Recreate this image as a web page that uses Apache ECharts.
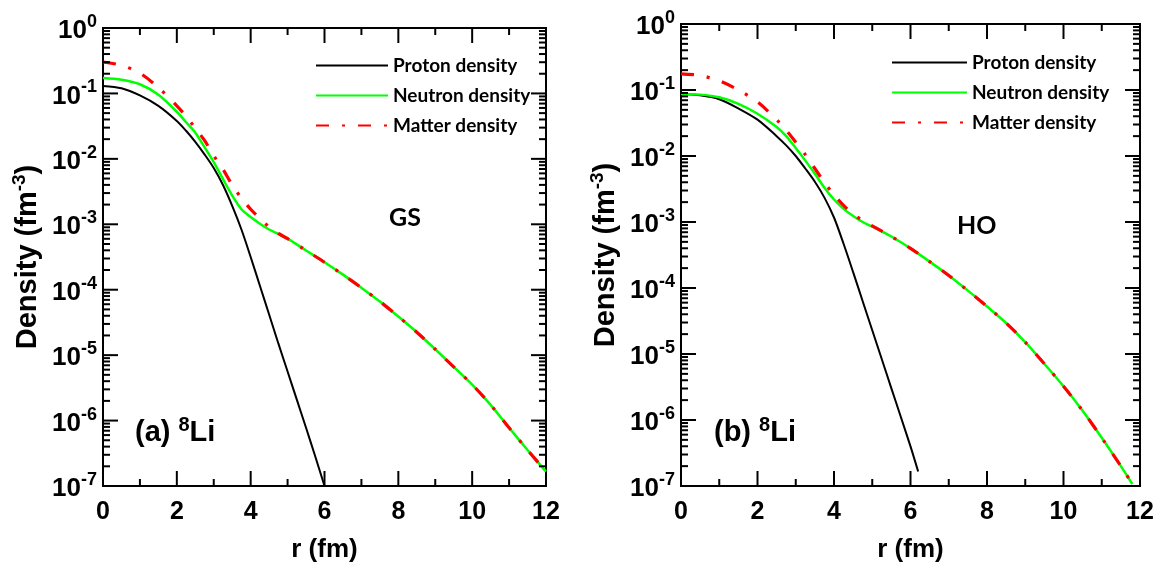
<!DOCTYPE html>
<html><head><meta charset="utf-8">
<script src="https://cdn.jsdelivr.net/npm/echarts@6/dist/echarts.min.js"></script>
<style>html,body{margin:0;padding:0;background:#fff}#c{width:1164px;height:568px}</style>
</head><body><div id="c"></div>
<script>
// ---------- data ----------
const xTicks = [0, 2, 4, 6, 8, 10, 12];
const yExponents = [-7, -6, -5, -4, -3, -2, -1, 0];
const seriesNames = ['Proton density', 'Neutron density', 'Matter density'];

// panel (a) GS
const rProtonA = [0,0.5,1,1.5,2,2.25,2.5,2.75,3,3.25,3.5,3.75,4,4.25,4.5,4.75,5,5.25,5.5,5.75,6];
const protonA = [0.1303,0.120,0.0933,0.0646,0.0380,0.0269,0.0182,0.0117,0.00724,0.00398,0.00191,8.32e-4,3.16e-4,1.15e-4,4.17e-5,1.51e-5,5.62e-6,2.09e-6,7.76e-7,2.82e-7,1.0e-7];
const rA = [0,0.5,1,1.5,2,2.25,2.5,2.75,3,3.25,3.5,3.75,4,4.25,4.5,4.75,5,5.5,6,6.5,7,7.5,8,8.5,9,9.5,10,10.5,11,11.5,12];
const neutronA = [0.172,0.162,0.138,0.0955,0.0525,0.0363,0.0251,0.0151,0.00891,0.0049,0.00275,0.0017,0.00129,0.00102,8.32e-4,7.08e-4,6.03e-4,3.98e-4,2.63e-4,1.70e-4,1.07e-4,6.61e-5,3.89e-5,2.24e-5,1.23e-5,6.61e-6,3.55e-6,1.74e-6,7.76e-7,3.55e-7,1.66e-7];
const matterA = [0.302,0.269,0.204,0.123,0.0646,0.0447,0.0295,0.0191,0.0112,0.00692,0.00398,0.00251,0.0017,0.00123,9.12e-4,7.24e-4,6.03e-4,3.98e-4,2.63e-4,1.70e-4,1.07e-4,6.61e-5,3.89e-5,2.24e-5,1.23e-5,6.61e-6,3.55e-6,1.74e-6,7.76e-7,3.55e-7,1.66e-7];

// panel (b) HO
const rProtonB = [0,0.5,1,1.5,2,2.5,2.75,3,3.25,3.5,3.75,4,4.25,4.5,4.75,5,5.25,5.5,5.75,6,6.2];
const protonB = [0.0871,0.0832,0.0724,0.0525,0.0355,0.0200,0.0145,0.0100,0.00646,0.00407,0.00234,0.00117,4.68e-4,1.74e-4,6.31e-5,2.29e-5,8.32e-6,3.02e-6,1.10e-6,3.98e-7,1.66e-7];
const rB = [0,0.5,1,1.5,2,2.5,2.75,3,3.25,3.5,3.75,4,4.25,4.5,4.75,5,5.5,6,6.5,7,7.5,8,8.5,9,9.5,10,10.5,11,11.5,11.8];
const neutronB = [0.0871,0.0851,0.0776,0.0617,0.0437,0.0275,0.0200,0.0132,0.00851,0.00537,0.00331,0.00219,0.00158,0.00123,0.0010,8.51e-4,6.03e-4,3.98e-4,2.51e-4,1.55e-4,9.12e-5,5.25e-5,2.95e-5,1.51e-5,7.08e-6,3.24e-6,1.38e-6,5.37e-7,2.0e-7,1.07e-7];
const matterB = [0.176,0.166,0.138,0.100,0.0661,0.0355,0.0245,0.0162,0.0105,0.00646,0.00398,0.00257,0.00178,0.00132,0.00105,8.71e-4,6.03e-4,3.98e-4,2.51e-4,1.55e-4,9.12e-5,5.25e-5,2.95e-5,1.51e-5,7.08e-6,3.24e-6,1.38e-6,5.37e-7,2.0e-7,1.07e-7];

// ---------- helpers ----------
const pairs = (xs, ys) => ys.map((v, i) => [xs[i], v]);
const AR = 'Liberation Sans, Arial, sans-serif';
const CAL = 'Lato, Carlito, sans-serif';

const supRich = (big, small, raise) => ({
  b: {fontFamily: AR, fontWeight: 'bold', fontSize: big, lineHeight: big, color: '#000', fill: '#000', verticalAlign: 'bottom'},
  s: {fontFamily: AR, fontWeight: 'bold', fontSize: small, lineHeight: small, color: '#000', fill: '#000', verticalAlign: 'bottom', padding: [0, 0, raise, 0]}
});

// frame tick positions (axis structure): [x, y, kind]
const tickData = [];
yExponents.forEach(e => {
  tickData.push([0, Math.pow(10, e), 'yMajor']);
  if (e < 0) for (let k = 2; k <= 9; k++) tickData.push([0, k * Math.pow(10, e), 'yMinor']);
});
for (let x = 1; x < 12; x++) tickData.push([x, 1, x % 2 === 0 ? 'xMajor' : 'xMinor']);

const grids = [
  {left: 103, top: 28, width: 443, height: 459, show: true, borderColor: '#000', borderWidth: 2, backgroundColor: 'rgba(0,0,0,0)'},
  {left: 681, top: 24, width: 459, height: 464, show: true, borderColor: '#000', borderWidth: 2, backgroundColor: 'rgba(0,0,0,0)'}
];

const xAxes = [], yAxes = [];
grids.forEach((g, gi) => {
  xAxes.push({
    type: 'value', gridIndex: gi, position: 'bottom', min: xTicks[0], max: xTicks[xTicks.length - 1], interval: 2,
    axisLine: {show: true, onZero: false, lineStyle: {color: '#000', width: 2}},
    axisTick: {show: false}, splitLine: {show: false},
    axisLabel: {fontFamily: AR, fontWeight: 'bold', fontSize: 25, color: '#000', margin: 14},
    name: 'r (fm)', nameLocation: 'middle', nameGap: 51,
    nameTextStyle: {fontFamily: AR, fontWeight: 'bold', fontSize: 26, color: '#000'}
  });
  yAxes.push({
    type: 'log', logBase: 10, gridIndex: gi, position: 'left', min: Math.pow(10, yExponents[0]), max: Math.pow(10, yExponents[yExponents.length - 1]), splitNumber: 7,
    axisLine: {show: true, onZero: false, lineStyle: {color: '#000', width: 2}},
    axisTick: {show: false}, splitLine: {show: false}, minorTick: {show: false},
    axisLabel: {show: false},
    name: '{b|Density (fm}{s|-3}{b|)}', nameLocation: 'middle', nameRotate: 90, nameGap: 61,
    nameTextStyle: {rich: supRich(29, 19, 13)}
  });
});

const lineSeries = (gi, name, data, color, width, dash, z) => ({
  type: 'line', name, xAxisIndex: gi, yAxisIndex: gi, data, symbol: 'none', showSymbol: false,
  smooth: 0.3, z, clip: true, animation: false,
  lineStyle: {color, width, type: dash || 'solid'}, itemStyle: {color}
});

// frame ticks and decade labels, placed through the axes' own scales
const tickSeries = gi => ({
  type: 'custom', coordinateSystem: 'cartesian2d', xAxisIndex: gi, yAxisIndex: gi, silent: true, clip: false, z: 10, animation: false,
  data: tickData.map(d => [d[0], d[1]]), encode: {x: 0, y: 1},
  renderItem: (params, api) => {
    const kind = tickData[params.dataIndex][2];
    const ln = (x1, y1, x2, y2) => ({type: 'line', shape: {x1, y1, x2, y2}, style: {stroke: '#000', lineWidth: 2}});
    if (kind[0] === 'y') {
      const v = api.value(1);
      const L = kind === 'yMajor' ? 15 : 7;
      const pl = api.coord([0, v]), pr = api.coord([12, v]);
      const children = [ln(pl[0], pl[1], pl[0] + L, pl[1]), ln(pr[0] - L, pr[1], pr[0], pr[1])];
      if (kind === 'yMajor') {
        children.push({type: 'text', x: pl[0] - 6, y: pl[1] + 3, style: {
          text: '{b|10}{s|' + Math.round(Math.log10(v)) + '}', rich: supRich(26, 18, 13),
          align: 'right', verticalAlign: 'middle'}});
      }
      return {type: 'group', children};
    }
    const x = api.value(0);
    const L = kind === 'xMajor' ? 15 : 7;
    const pb = api.coord([x, 1e-7]), pt = api.coord([x, 1]);
    return {type: 'group', children: [ln(pb[0], pb[1], pb[0], pb[1] - L), ln(pt[0], pt[1], pt[0], pt[1] + L)]};
  }
});

const dashDot = [13, 13, 3, 13];
const series = [
  tickSeries(0), tickSeries(1),
  lineSeries(0, seriesNames[0], pairs(rProtonA, protonA), '#000000', 2, null, 3),
  lineSeries(0, seriesNames[1], pairs(rA, neutronA), '#00ff00', 2.5, null, 4),
  lineSeries(0, seriesNames[2], pairs(rA, matterA), '#ff0000', 3.2, dashDot, 5),
  lineSeries(1, seriesNames[0], pairs(rProtonB, protonB), '#000000', 2, null, 3),
  lineSeries(1, seriesNames[1], pairs(rB, neutronB), '#00ff00', 2.5, null, 4),
  lineSeries(1, seriesNames[2], pairs(rB, matterB), '#ff0000', 3.2, dashDot, 5)
];

const legendBase = {
  data: seriesNames, orient: 'vertical', itemWidth: 72, itemHeight: 14, itemGap: 11,
  itemStyle: {opacity: 0},
  textStyle: {fontFamily: CAL, fontWeight: 'bold', fontSize: 19, color: '#000'}, selectedMode: false,
  padding: 0
};

const chart = echarts.init(document.getElementById('c'), null, {renderer: 'canvas'});
chart.setOption({
  animation: false,
  backgroundColor: '#fff',
  grid: grids,
  xAxis: xAxes,
  yAxis: yAxes,
  legend: [
    Object.assign({left: 315, top: 56}, legendBase),
    Object.assign({left: 891, top: 53}, legendBase, {itemWidth: 75})
  ],
  series,
  graphic: [
    {type: 'text', left: 135, top: 415, style: {text: '{b|(a) }{s|8}{b|Li}', rich: supRich(29, 20, 12)}},
    {type: 'text', left: 714, top: 415, style: {text: '{b|(b) }{s|8}{b|Li}', rich: supRich(29, 20, 12)}},
    {type: 'text', left: 389, top: 205, style: {text: 'GS', font: 'bold 25px ' + CAL, fill: '#000'}},
    {type: 'text', left: 957, top: 213, style: {text: 'HO', font: 'bold 25px ' + CAL, fill: '#000'}}
  ]
});
</script></body></html>
